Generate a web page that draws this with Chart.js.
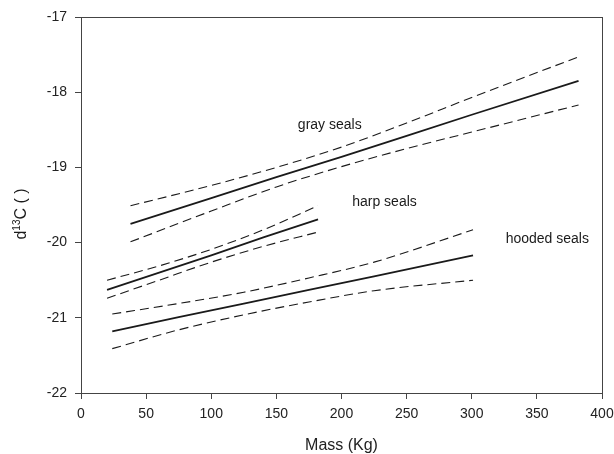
<!DOCTYPE html>
<html>
<head>
<meta charset="utf-8">
<script src="https://cdn.jsdelivr.net/npm/chart.js@4.4.1/dist/chart.umd.min.js"></script>
<style>
  html, body { margin: 0; padding: 0; background: #fff; }
  canvas { display: block; }
</style>
</head>
<body>
<canvas id="chart" width="614" height="454"></canvas>
<script>
// Regression lines (solid) with confidence bands (dashed)
const grayX = [38, 100, 150, 200, 250, 300, 382];
const grayFit = [-19.75, -19.41, -19.13, -18.86, -18.58, -18.30, -17.85];
const grayUpper = [-19.51, -19.24, -19.00, -18.73, -18.41, -18.07, -17.53];
const grayLower = [-19.99, -19.58, -19.26, -18.99, -18.75, -18.53, -18.17];

const harpX = [20, 60, 100, 140, 182];
const harpFit = [-20.63, -20.40, -20.17, -19.93, -19.69];
const harpUpper = [-20.50, -20.31, -20.09, -19.83, -19.51];
const harpLower = [-20.74, -20.50, -20.26, -20.05, -19.86];

const hoodedX = [24, 75, 125, 175, 225, 301];
const hoodedFit = [-21.18, -20.99, -20.81, -20.63, -20.45, -20.17];
const hoodedUpper = [-20.95, -20.81, -20.66, -20.47, -20.26, -19.83];
const hoodedLower = [-21.41, -21.16, -20.96, -20.79, -20.64, -20.50];

// Text labels placed in data coordinates
const seriesLabels = ['gray seals', 'harp seals', 'hooded seals'];
const labelX = [191, 233, 358];
const labelY = [-18.44, -19.46, -19.95];

const FONT = "'Liberation Sans', Arial, Helvetica, sans-serif";
const INK = '#1a1a1a';

const toPoints = (xs, ys) => xs.map((x, i) => ({ x, y: ys[i] }));

const solid = (label, xs, ys) => ({
  label,
  data: toPoints(xs, ys),
  showLine: true,
  borderColor: INK,
  borderWidth: 1.8,
  pointRadius: 0,
  tension: 0
});

const dashed = (label, xs, ys) => ({
  label,
  data: toPoints(xs, ys),
  showLine: true,
  borderColor: INK,
  borderWidth: 1.1,
  borderDash: [9, 5],
  pointRadius: 0,
  cubicInterpolationMode: 'monotone'
});

// Frame around the plot area, series labels and the y title with superscript
const decorations = {
  id: 'decorations',
  afterDraw(chart) {
    const { ctx, chartArea: a, scales } = chart;
    ctx.save();
    ctx.strokeStyle = '#444';
    ctx.lineWidth = 1;
    ctx.strokeRect(a.left + 0.5, a.top + 0.5, a.right - a.left, a.bottom - a.top);

    ctx.fillStyle = INK;
    ctx.font = '14px ' + FONT;
    ctx.textAlign = 'center';
    ctx.textBaseline = 'middle';
    seriesLabels.forEach((t, i) => {
      ctx.fillText(t, scales.x.getPixelForValue(labelX[i]), scales.y.getPixelForValue(labelY[i]));
    });

    // y axis title: d^13 C ( )
    ctx.translate(22, 214);
    ctx.rotate(-Math.PI / 2);
    ctx.textBaseline = 'middle';
    ctx.textAlign = 'left';
    const big = '16px ' + FONT;
    const small = '10px ' + FONT;
    ctx.font = big;
    const wD = ctx.measureText('d').width;
    const wRest = ctx.measureText('C ( )').width;
    ctx.font = small;
    const wSup = ctx.measureText('13').width;
    let x = -(wD + wSup + wRest) / 2;
    ctx.font = big;
    ctx.fillText('d', x, 0);
    x += wD;
    ctx.font = small;
    ctx.fillText('13', x, -5);
    x += wSup;
    ctx.font = big;
    ctx.fillText('C ( )', x, 0);
    ctx.restore();
  }
};

new Chart(document.getElementById('chart'), {
  type: 'scatter',
  data: {
    datasets: [
      dashed('gray upper', grayX, grayUpper),
      solid('gray seals', grayX, grayFit),
      dashed('gray lower', grayX, grayLower),
      dashed('harp upper', harpX, harpUpper),
      solid('harp seals', harpX, harpFit),
      dashed('harp lower', harpX, harpLower),
      dashed('hooded upper', hoodedX, hoodedUpper),
      solid('hooded seals', hoodedX, hoodedFit),
      dashed('hooded lower', hoodedX, hoodedLower)
    ]
  },
  options: {
    responsive: false,
    animation: false,
    layout: { padding: { left: 0, top: 17, right: 12, bottom: 0 } },
    plugins: {
      legend: { display: false },
      tooltip: { enabled: false }
    },
    scales: {
      x: {
        type: 'linear',
        min: 0,
        max: 400,
        afterFit: (scale) => {
          scale.height = 61;
          scale.paddingLeft = 0;
          scale.paddingRight = 0;
        },
        ticks: {
          stepSize: 50,
          color: '#222',
          padding: 7,
          maxRotation: 0,
          font: { family: FONT, size: 14 }
        },
        grid: { drawOnChartArea: false, drawTicks: true, tickLength: 6, color: '#444' },
        border: { display: true, color: '#444' },
        title: {
          display: true,
          text: 'Mass (Kg)',
          color: '#222',
          padding: { top: 0, bottom: 0 },
          font: { family: FONT, size: 16, lineHeight: 1 }
        }
      },
      y: {
        type: 'linear',
        min: -22,
        max: -17,
        afterFit: (scale) => { scale.width = 81; },
        ticks: {
          stepSize: 1,
          color: '#222',
          padding: 8,
          font: { family: FONT, size: 14 }
        },
        grid: { drawOnChartArea: false, drawTicks: true, tickLength: 6, color: '#444' },
        border: { display: true, color: '#444' }
      }
    }
  },
  plugins: [decorations]
});
</script>
</body>
</html>
